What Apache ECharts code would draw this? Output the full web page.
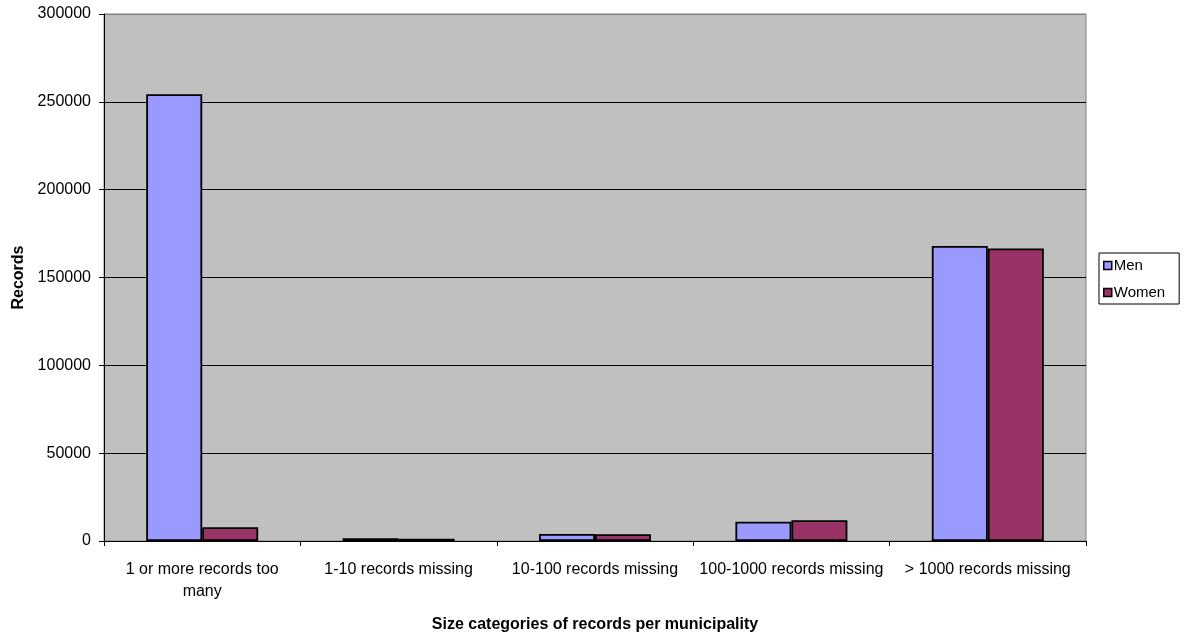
<!DOCTYPE html>
<html>
<head>
<meta charset="utf-8">
<script src="https://cdn.jsdelivr.net/npm/echarts@6/dist/echarts.min.js"></script>
<style>
  html, body { margin: 0; padding: 0; background: #ffffff; }
  #chart { width: 1186px; height: 635px; }
</style>
</head>
<body>
<div id="chart"></div>
<script>
// Size categories of records per municipality
const categories = [
  '1 or more records too\nmany',
  '1-10 records missing',
  '10-100 records missing',
  '100-1000 records missing',
  '> 1000 records missing'
];
const menValues = [254300, 1500, 4000, 11000, 168000];
const womenValues = [7800, 1300, 3800, 11800, 166500];
const yTicks = { min: 0, max: 300000, interval: 50000 };

const FONT = 'Liberation Sans, Arial, sans-serif';

// gridlines are black; the one along the top edge blends into the grey frame
const gridLineColors = ['#000000', '#000000', '#000000', '#000000', '#000000', '#000000', '#808080'];

const chart = echarts.init(document.getElementById('chart'), null, { renderer: 'canvas' });

chart.setOption({
  animation: false,
  backgroundColor: '#ffffff',
  grid: {
    left: 104, right: 100, top: 14, bottom: 94,
    outerBoundsMode: 'none',
    containLabel: false,
    show: true,
    backgroundColor: '#c0c0c0',
    borderColor: '#808080',
    borderWidth: 1
  },
  legend: {
    orient: 'vertical',
    left: 1099, top: 253,
    padding: [5, 14, 4, 4],
    itemGap: 12,
    itemWidth: 8, itemHeight: 8,
    backgroundColor: '#ffffff',
    borderColor: '#000000',
    borderWidth: 1,
    borderRadius: 0,
    icon: 'rect',
    itemStyle: { borderColor: '#000000', borderWidth: 1.5 },
    textStyle: { fontFamily: FONT, fontSize: 15, color: '#000000', padding: [0, 0, 0, -3] },
    data: ['Men', 'Women']
  },
  xAxis: {
    type: 'category',
    data: categories,
    name: 'Size categories of records per municipality',
    nameLocation: 'middle',
    nameGap: 76,
    nameTextStyle: { fontFamily: FONT, fontSize: 16, fontWeight: 'bold', color: '#000000' },
    axisLine: { lineStyle: { color: '#000000', width: 1 } },
    axisTick: { show: true, length: 5, lineStyle: { color: '#000000' } },
    axisLabel: {
      fontFamily: FONT, fontSize: 16, color: '#000000',
      margin: 18, lineHeight: 22, interval: 0
    }
  },
  yAxis: {
    type: 'value',
    min: yTicks.min, max: yTicks.max, interval: yTicks.interval,
    name: 'Records',
    nameLocation: 'middle',
    nameRotate: 90,
    nameGap: 77,
    nameTextStyle: { fontFamily: FONT, fontSize: 16, fontWeight: 'bold', color: '#000000' },
    axisLine: { show: true, lineStyle: { color: '#000000', width: 1 } },
    axisTick: { show: true, length: 5, lineStyle: { color: '#000000' } },
    axisLabel: {
      fontFamily: FONT, fontSize: 16, color: '#000000', margin: 13,
      formatter: v => String(v)
    },
    splitLine: { show: true, lineStyle: { color: gridLineColors, width: 1 } }
  },
  series: [
    {
      name: 'Men',
      type: 'bar',
      data: menValues,
      barWidth: 56,
      barGap: '0%',
      itemStyle: { color: '#9999ff', borderColor: '#000000', borderWidth: 1.8 }
    },
    {
      name: 'Women',
      type: 'bar',
      data: womenValues,
      barWidth: 56,
      barGap: '0%',
      itemStyle: { color: '#993366', borderColor: '#000000', borderWidth: 1.8 }
    }
  ]
});
</script>
</body>
</html>
